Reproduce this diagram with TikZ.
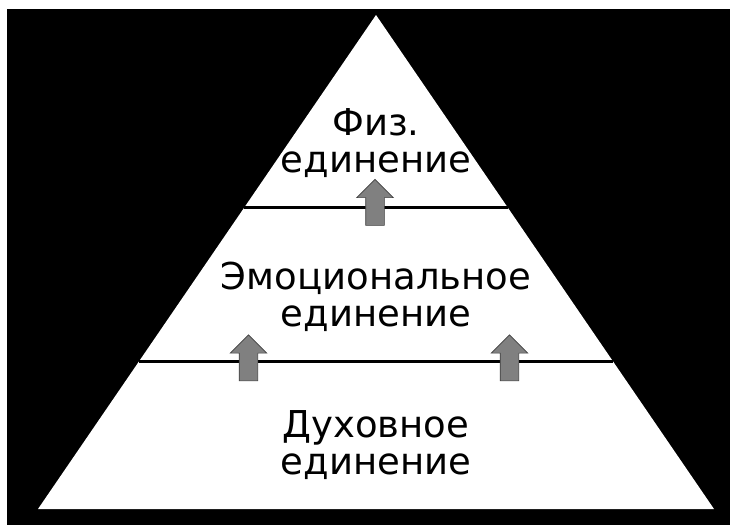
\documentclass[tikz,border=0pt]{standalone}
\usepackage{fontspec}
\setmainfont{DejaVu Sans}
\usetikzlibrary{shapes.arrows, calc}

\begin{document}
\begin{tikzpicture}[
        x=1pt, y=-1pt,
        level/.style={align=center, anchor=base, font=\fontsize{37}{37}\selectfont},
        uparrow/.style={single arrow, draw=black!75, fill=black!50, line width=0.6pt,
            shape border rotate=90, minimum height=46pt, inner sep=9pt,
            single arrow head extend=9pt, single arrow head indent=0pt}
        ]

        \useasboundingbox (0,0) rectangle (730,525);
        \fill[black] (7,9) rectangle (730,525);

        % Pyramid
        \coordinate (Apex) at (376,15);
        \coordinate (Base_L) at (38,509);
        \coordinate (Base_R) at (714,509);
        \fill[white] (Apex) -- (Base_L) -- (Base_R) -- cycle;

        \draw[line width=3pt] ($(Apex)!0.3897!(Base_L)$) -- ($(Apex)!0.3897!(Base_R)$);
        \draw[line width=3pt] ($(Apex)!0.7024!(Base_L)$) -- ($(Apex)!0.7024!(Base_R)$);

        % Nodes
        \node[level] (Phys_level) at (376,172) {Физ.\\единение};
        \node[level] (Emo_level) at (376,326) {Эмоциональное\\единение};
        \node[level] (Spirit_level) at (376,474) {Духовное\\единение};

        \node[uparrow] (Arrow_top) at (375,207) {};
        \node[uparrow] (Arrow_left) at (248.5,362.5) {};
        \node[uparrow] (Arrow_right) at (509.5,362.5) {};

    \end{tikzpicture}
\end{document}
